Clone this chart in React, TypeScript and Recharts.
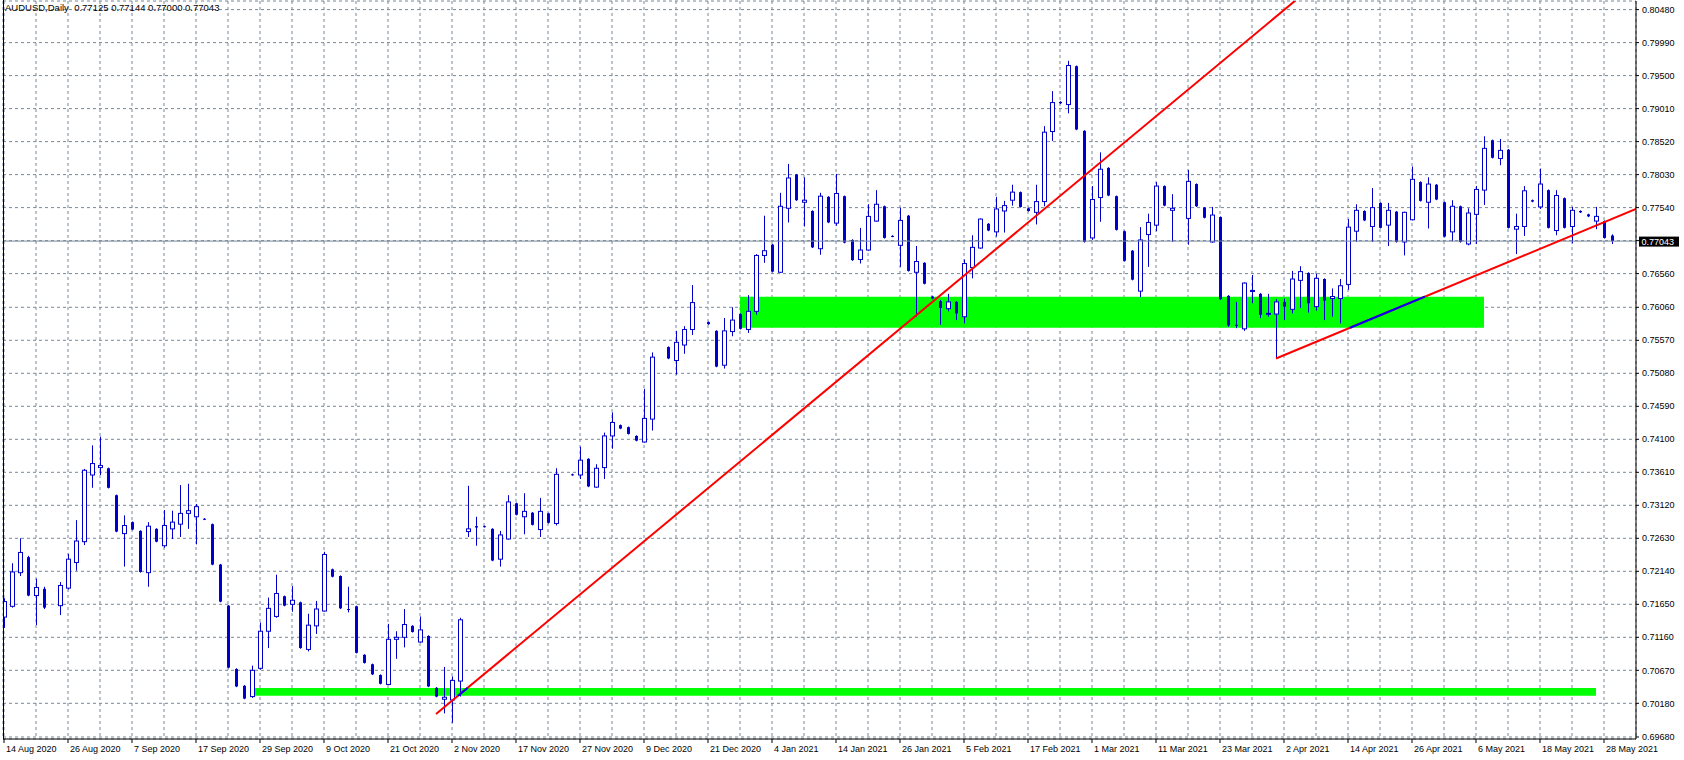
import React from 'react';
import { ComposedChart, Bar, XAxis, YAxis, CartesianGrid, ReferenceArea, ReferenceLine } from 'recharts';

// AUDUSD daily candles, one slot per bar on the chart (null = empty slot)
const opens = [
    0.7146, 0.7162, 0.7212, 0.7235, 0.7178, 0.7188, null, 0.7163, 0.7189, 0.7227,
    0.7258, 0.7357, 0.7368, 0.7367, 0.7327, 0.7270, 0.7287, 0.7274, 0.7212, 0.7277,
    0.7252, 0.7277, 0.7284, 0.7300, 0.7295, 0.7292, 0.7284, 0.7224, 0.7163, 0.7069,
    0.7044, 0.7028, 0.7070, 0.7125, 0.7147, 0.7177, 0.7165, 0.7168, 0.7098, 0.7133,
    0.7155, 0.7217, 0.7207, 0.7158, 0.7162, 0.7090, 0.7076, 0.7060, 0.7046, 0.7113,
    0.7116, 0.7133, 0.7109, 0.7118, 0.7041, 0.7024, 0.7023, 0.7051, 0.7273, 0.7281,
    0.7281, 0.7277, 0.7232, 0.7262, 0.7315, 0.7295, 0.7301, 0.7276, 0.7300, 0.7285,
    null, 0.7358, 0.7357, 0.7381, 0.7339, 0.7368, 0.7415, 0.7431, 0.7428, 0.7415,
    0.7406, 0.7440, null, 0.7547, 0.7527, 0.7550, 0.7573, null, 0.7584, 0.7571,
    0.7520, 0.7570, 0.7596, 0.7573, 0.7600, 0.7683, 0.7699, 0.7658, 0.7753, 0.7803,
    0.7762, 0.7749, 0.7693, 0.7770, 0.7731, 0.7771, 0.7706, 0.7677, 0.7691, 0.7734,
    0.7756, 0.7712, 0.7698, 0.7742, 0.7658, 0.7672, 0.7622, 0.7615, 0.7604, 0.7614,
    0.7592, 0.7665, 0.7694, 0.7730, 0.7718, 0.7749, 0.7765, 0.7777, 0.7753, 0.7747,
    0.7763, 0.7867, 0.7911, 0.7907, 0.7964, 0.7868, 0.7709, 0.7769, 0.7813, 0.7771,
    0.7719, 0.7690, 0.7630, 0.7714, 0.7728, 0.7786, 0.7750, null, 0.7738, 0.7789,
    0.7754, 0.7703, 0.7740, 0.7623, 0.7580, 0.7574, 0.7630, 0.7626, 0.7596, 0.7596,
    0.7614, 0.7603, 0.7646, 0.7657, 0.7607, 0.7648, 0.7619, 0.7619, 0.7640, 0.7719,
    0.7749, 0.7726, 0.7761, 0.7728, 0.7748, 0.7703, 0.7736, 0.7792, 0.7762, 0.7788,
    0.7762, 0.7718, 0.7756, 0.7700, 0.7744, 0.7780, 0.7854, 0.7827, 0.7840, 0.7722,
    0.7726, 0.7765, 0.7755, 0.7780, 0.7720, 0.7768, 0.7726, 0.7749, 0.7744, 0.7734,
    0.7734, 0.77125,
];
const highs = [
    0.7174, 0.7226, 0.7263, 0.7237, 0.7203, 0.7191, null, 0.7198, 0.7240, 0.7290,
    0.7366, 0.7401, 0.7414, 0.7368, 0.7328, 0.7297, 0.7288, 0.7275, 0.7287, 0.7278,
    0.7305, 0.7304, 0.7342, 0.7344, 0.7314, 0.7293, 0.7285, 0.7225, 0.7164, 0.7070,
    0.7045, 0.7074, 0.7138, 0.7175, 0.7209, 0.7178, 0.7192, 0.7169, 0.7151, 0.7170,
    0.7243, 0.7218, 0.7208, 0.7191, 0.7163, 0.7091, 0.7077, 0.7061, 0.7136, 0.7125,
    0.7158, 0.7134, 0.7147, 0.7119, 0.7042, 0.7072, 0.7058, 0.7145, 0.7341, 0.7295,
    0.7282, 0.7278, 0.7274, 0.7327, 0.7316, 0.7330, 0.7302, 0.7323, 0.7301, 0.7367,
    null, 0.7359, 0.7399, 0.7382, 0.7373, 0.7420, 0.7450, 0.7432, 0.7429, 0.7416,
    0.7485, 0.7539, null, 0.7548, 0.7571, 0.7578, 0.7639, null, 0.7585, 0.7572,
    0.7590, 0.7606, 0.7597, 0.7624, 0.7685, 0.7742, 0.7700, 0.7776, 0.7819, 0.7804,
    0.7799, 0.7750, 0.7776, 0.7771, 0.7804, 0.7772, 0.7707, 0.7724, 0.7759, 0.7780,
    0.7757, 0.7713, 0.7754, 0.7743, 0.7697, 0.7673, 0.7623, 0.7617, 0.7626, 0.7615,
    0.7677, 0.7713, 0.7738, 0.7731, 0.7770, 0.7764, 0.7788, 0.7778, 0.7754, 0.7788,
    0.7875, 0.7927, 0.7912, 0.7972, 0.7965, 0.7869, 0.7786, 0.7836, 0.7814, 0.7772,
    0.7720, 0.7691, 0.7725, 0.7745, 0.7792, 0.7787, 0.7774, null, 0.7810, 0.7790,
    0.7755, 0.7755, 0.7741, 0.7624, 0.7614, 0.7643, 0.7654, 0.7627, 0.7626, 0.7618,
    0.7619, 0.7660, 0.7667, 0.7658, 0.7656, 0.7649, 0.7634, 0.7648, 0.7737, 0.7759,
    0.7750, 0.7783, 0.7762, 0.7761, 0.7749, 0.7748, 0.7815, 0.7793, 0.7799, 0.7789,
    0.7763, 0.7765, 0.7757, 0.7753, 0.7786, 0.7860, 0.7855, 0.7856, 0.7841, 0.7745,
    0.7786, 0.7766, 0.7812, 0.7781, 0.7780, 0.7769, 0.7755, 0.7750, 0.7745, 0.7755,
    0.7735, 0.77144,
];
const lows = [
    0.7130, 0.7160, 0.7207, 0.7177, 0.7134, 0.7158, null, 0.7149, 0.7187, 0.7215,
    0.7253, 0.7338, 0.7357, 0.7337, 0.7272, 0.7221, 0.7275, 0.7212, 0.7191, 0.7257,
    0.7249, 0.7262, 0.7265, 0.7277, 0.7254, 0.7290, 0.7223, 0.7168, 0.7070, 0.7042,
    0.7024, 0.7026, 0.7068, 0.7100, 0.7145, 0.7162, 0.7154, 0.7099, 0.7095, 0.7121,
    0.7154, 0.7205, 0.7158, 0.7153, 0.7092, 0.7077, 0.7060, 0.7046, 0.7045, 0.7084,
    0.7101, 0.7123, 0.7108, 0.7042, 0.7027, 0.7003, 0.6989, 0.7028, 0.7265, 0.7252,
    0.7279, 0.7229, 0.7221, 0.7261, 0.7297, 0.7269, 0.7282, 0.7265, 0.7285, 0.7282,
    null, 0.7356, 0.7351, 0.7339, 0.7338, 0.7351, 0.7396, 0.7425, 0.7417, 0.7407,
    0.7405, 0.7423, null, 0.7529, 0.7506, 0.7537, 0.7565, null, 0.7580, 0.7517,
    0.7515, 0.7563, 0.7573, 0.7568, 0.7595, 0.7672, 0.7658, 0.7657, 0.7732, 0.7764,
    0.7726, 0.7694, 0.7684, 0.7731, 0.7727, 0.7701, 0.7675, 0.7671, 0.7690, 0.7733,
    0.7708, 0.7710, 0.7666, 0.7659, 0.7592, 0.7640, 0.7618, 0.7580, 0.7600, 0.7587,
    0.7582, 0.7649, 0.7693, 0.7719, 0.7711, 0.7717, 0.7757, 0.7754, 0.7748, 0.7729,
    0.7756, 0.7853, 0.7908, 0.7894, 0.7869, 0.7702, 0.7706, 0.7733, 0.7771, 0.7720,
    0.7674, 0.7646, 0.7621, 0.7666, 0.7719, 0.7756, 0.7703, null, 0.7699, 0.7755,
    0.7738, 0.7702, 0.7617, 0.7577, 0.7575, 0.7571, 0.7612, 0.7590, 0.7592, 0.7530,
    0.7587, 0.7597, 0.7605, 0.7598, 0.7601, 0.7587, 0.7592, 0.7582, 0.7632, 0.7703,
    0.7734, 0.7703, 0.7723, 0.7697, 0.7702, 0.7683, 0.7735, 0.7763, 0.7723, 0.7765,
    0.7710, 0.7704, 0.7702, 0.7698, 0.7700, 0.7758, 0.7827, 0.7817, 0.7723, 0.7685,
    0.7712, 0.7762, 0.7752, 0.7723, 0.7713, 0.7723, 0.7701, 0.7746, 0.7740, 0.7722,
    0.7708, 0.77000,
];
const closes = [
    0.7169, 0.7213, 0.7242, 0.7178, 0.7190, 0.7160, null, 0.7193, 0.7232, 0.7259,
    0.7364, 0.7374, 0.7371, 0.7338, 0.7273, 0.7282, 0.7276, 0.7213, 0.7281, 0.7258,
    0.7282, 0.7287, 0.7300, 0.7304, 0.7310, 0.7291, 0.7224, 0.7169, 0.7071, 0.7043,
    0.7025, 0.7067, 0.7125, 0.7159, 0.7181, 0.7163, 0.7171, 0.7100, 0.7134, 0.7158,
    0.7239, 0.7206, 0.7159, 0.7157, 0.7093, 0.7078, 0.7061, 0.7047, 0.7113, 0.7116,
    0.7135, 0.7124, 0.7127, 0.7043, 0.7028, 0.7027, 0.7052, 0.7142, 0.7277, 0.7279,
    0.7280, 0.7230, 0.7268, 0.7317, 0.7298, 0.7303, 0.7283, 0.7303, 0.7286, 0.7358,
    null, 0.7357, 0.7379, 0.7340, 0.7367, 0.7415, 0.7435, 0.7426, 0.7418, 0.7408,
    0.7441, 0.7532, null, 0.7530, 0.7554, 0.7573, 0.7613, null, 0.7581, 0.7518,
    0.7571, 0.7587, 0.7574, 0.7600, 0.7683, 0.7690, 0.7659, 0.7756, 0.7798, 0.7765,
    0.7765, 0.7695, 0.7771, 0.7732, 0.7775, 0.7702, 0.7676, 0.7691, 0.7741, 0.7759,
    0.7709, 0.7711, 0.7735, 0.7660, 0.7674, 0.7641, 0.7619, 0.7605, 0.7614, 0.7597,
    0.7671, 0.7695, 0.7737, 0.7720, 0.7752, 0.7757, 0.7777, 0.7755, 0.7749, 0.7763,
    0.7866, 0.7910, 0.7909, 0.7965, 0.7870, 0.7703, 0.7766, 0.7811, 0.7772, 0.7721,
    0.7675, 0.7647, 0.7706, 0.7732, 0.7786, 0.7757, 0.7753, null, 0.7793, 0.7756,
    0.7739, 0.7743, 0.7618, 0.7579, 0.7579, 0.7642, 0.7631, 0.7595, 0.7597, 0.7614,
    0.7607, 0.7648, 0.7659, 0.7612, 0.7649, 0.7616, 0.7622, 0.7638, 0.7725, 0.7750,
    0.7735, 0.7754, 0.7724, 0.7750, 0.7703, 0.7747, 0.7796, 0.7764, 0.7789, 0.7766,
    0.7711, 0.7756, 0.7703, 0.7746, 0.7781, 0.7842, 0.7828, 0.7839, 0.7724, 0.7726,
    0.7779, 0.7763, 0.7789, 0.7724, 0.7772, 0.7724, 0.7750, 0.7747, 0.7741, 0.7741,
    0.7709, 0.77043,
];

// date labels, one every 8 bars starting at bar 0
const dateLabels = [
    '14 Aug 2020', '26 Aug 2020', '7 Sep 2020', '17 Sep 2020', '29 Sep 2020', '9 Oct 2020',
    '21 Oct 2020', '2 Nov 2020', '17 Nov 2020', '27 Nov 2020', '9 Dec 2020', '21 Dec 2020',
    '4 Jan 2021', '14 Jan 2021', '26 Jan 2021', '5 Feb 2021', '17 Feb 2021', '1 Mar 2021',
    '11 Mar 2021', '23 Mar 2021', '2 Apr 2021', '14 Apr 2021', '26 Apr 2021', '6 May 2021',
    '18 May 2021', '28 May 2021',
];

const priceTicks = [
    0.6968, 0.7018, 0.7067, 0.7116, 0.7165, 0.7214, 0.7263, 0.7312, 0.7361, 0.7410, 0.7459, 0.7508,
    0.7557, 0.7606, 0.7656, 0.7705, 0.7754, 0.7803, 0.7852, 0.7901, 0.7950, 0.7999, 0.8048,
];

// support zones (bar index range, price range)
const zones = [
    { x1: 31, x2: 199, lo: 0.70293, hi: 0.70408 },
    { x1: 92, x2: 185, lo: 0.75757, hi: 0.76218 },
];

// trend lines (bar index, price) -> (bar index, price)
const trendLines = [
    { i0: 54, p0: 0.7002, i1: 200, p1: 0.8442 },
    { i0: 159, p0: 0.7530, i1: 204, p1: 0.7752 },
];
// parts of the trend lines that show blue where they cross a zone: [line, zone]
const blueCrossings = [[0, 0], [1, 1]];

const BLUE = '#0000cd';
const GRID = '#778899';
const FONT = '"Liberation Sans", Arial, sans-serif';
const lastClose = closes[closes.length - 1] as number;

const candles = opens
    .map((o, i) => ({ i, o, h: highs[i], l: lows[i], c: closes[i] }))
    .filter((d) => d.o != null);

const xTicks = dateLabels.flatMap((_, k) => (k < dateLabels.length - 1 ? [k * 8, k * 8 + 4] : [k * 8]));

function crossing(line: typeof trendLines[0], zone: typeof zones[0]) {
    const slope = (line.p1 - line.p0) / (line.i1 - line.i0);
    const a = line.i0 + (zone.lo - line.p0) / slope;
    const b = line.i0 + (zone.hi - line.p0) / slope;
    return [{ x: a, y: zone.lo }, { x: b, y: zone.hi }];
}

const Candle = (props: any) => {
    const { x, y, width, height, payload } = props;
    const { o, h, l, c } = payload;
    const cx = Math.round(x + width / 2) + 0.5;
    const top = Math.min(y, y + height);
    const bot = Math.max(y, y + height);
    const k = h > l ? (bot - top) / (h - l) : 0;
    const py = (p: number) => top + (h - p) * k;
    const yo = py(o);
    const yc = py(c);
    const bt = Math.min(yo, yc);
    const bh = Math.max(Math.abs(yo - yc), 1);
    return (
        <g>
            <line x1={cx} x2={cx} y1={top} y2={bot} stroke={BLUE} strokeWidth={1} />
            {c > o ? (
                <rect x={cx - 2} y={bt} width={4} height={bh} fill="#fff" stroke={BLUE} strokeWidth={1} />
            ) : (
                <rect x={cx - 1.5} y={bt} width={3} height={bh} fill={BLUE} />
            )}
        </g>
    );
};

const DateTick = (props: any) => {
    const { x, y, payload } = props;
    const v = payload.value;
    if (v % 8 !== 0) return null;
    return (
        <g>
            <line x1={x} x2={x} y1={y} y2={y + 4} stroke="#000" />
            <text x={x + 2} y={y + 13} fontSize={9} fontFamily={FONT} fill="#000">
                {dateLabels[v / 8]}
            </text>
        </g>
    );
};

const PriceTag = (props: any) => {
    const vb = props.viewBox;
    const x = vb.x + vb.width + 3;
    return (
        <g>
            <rect x={x} y={vb.y - 4.5} width={40} height={10} fill="#000" />
            <text x={x + 2.5} y={vb.y + 3.5} fontSize={9} fontFamily={FONT} fill="#fff">
                {lastClose.toFixed(5)}
            </text>
        </g>
    );
};

export default function App() {
    return (
        <div style={{ position: 'absolute', left: 0, top: 0, width: 1684, height: 760, background: '#fff' }}>
            <ComposedChart width={1684} height={760} data={candles} margin={{ top: 1, right: 0, bottom: 0, left: 3 }}>
                <CartesianGrid stroke={GRID} strokeDasharray="3 3" />
                <XAxis
                    dataKey="i"
                    type="number"
                    domain={[-0.125, 204]}
                    allowDataOverflow
                    ticks={xTicks}
                    interval={0}
                    height={21}
                    tickSize={0}
                    tickMargin={0}
                    tickLine={false}
                    axisLine={{ stroke: '#000' }}
                    tick={<DateTick />}
                />
                <YAxis
                    orientation="right"
                    type="number"
                    domain={[0.6965, 0.80608]}
                    allowDataOverflow
                    ticks={priceTicks}
                    interval={0}
                    width={48}
                    tickSize={3}
                    tickMargin={3}
                    axisLine={{ stroke: '#000' }}
                    tickLine={{ stroke: '#000' }}
                    tick={{ fontSize: 9, fill: '#000', fontFamily: FONT }}
                    tickFormatter={(v: number) => (v === 0.7705 ? '' : v.toFixed(5))}
                />
                {zones.map((z, n) => (
                    <ReferenceArea key={`z${n}`} x1={z.x1} x2={z.x2} y1={z.lo} y2={z.hi} fill="#00ff00" fillOpacity={1} stroke="none" />
                ))}
                <ReferenceLine y={lastClose} stroke={GRID} strokeWidth={1} label={(p: any) => <PriceTag {...p} />} />
                {trendLines.map((t, n) => (
                    <ReferenceLine
                        key={`t${n}`}
                        segment={[{ x: t.i0, y: t.p0 }, { x: t.i1, y: t.p1 }]}
                        stroke="#ff0000"
                        strokeWidth={2}
                        ifOverflow="hidden"
                    />
                ))}
                {blueCrossings.map(([ln, zn], n) => (
                    <ReferenceLine
                        key={`b${n}`}
                        segment={crossing(trendLines[ln], zones[zn])}
                        stroke="#0000ff"
                        strokeWidth={2}
                        ifOverflow="hidden"
                    />
                ))}
                <Bar dataKey={(d: any) => [d.l, d.h]} shape={<Candle />} barSize={5} isAnimationActive={false} />
            </ComposedChart>
            <div style={{ position: 'absolute', left: 3, top: 0, width: 1, height: 739, background: '#000' }} />
            <div
                style={{
                    position: 'absolute', left: 5, top: 2, fontSize: 9.5, fontFamily: FONT,
                    color: '#000', whiteSpace: 'pre', lineHeight: '11px',
                }}
            >
                {'AUDUSD,Daily  0.77125 0.77144 0.77000 0.77043'}
            </div>
        </div>
    );
}
